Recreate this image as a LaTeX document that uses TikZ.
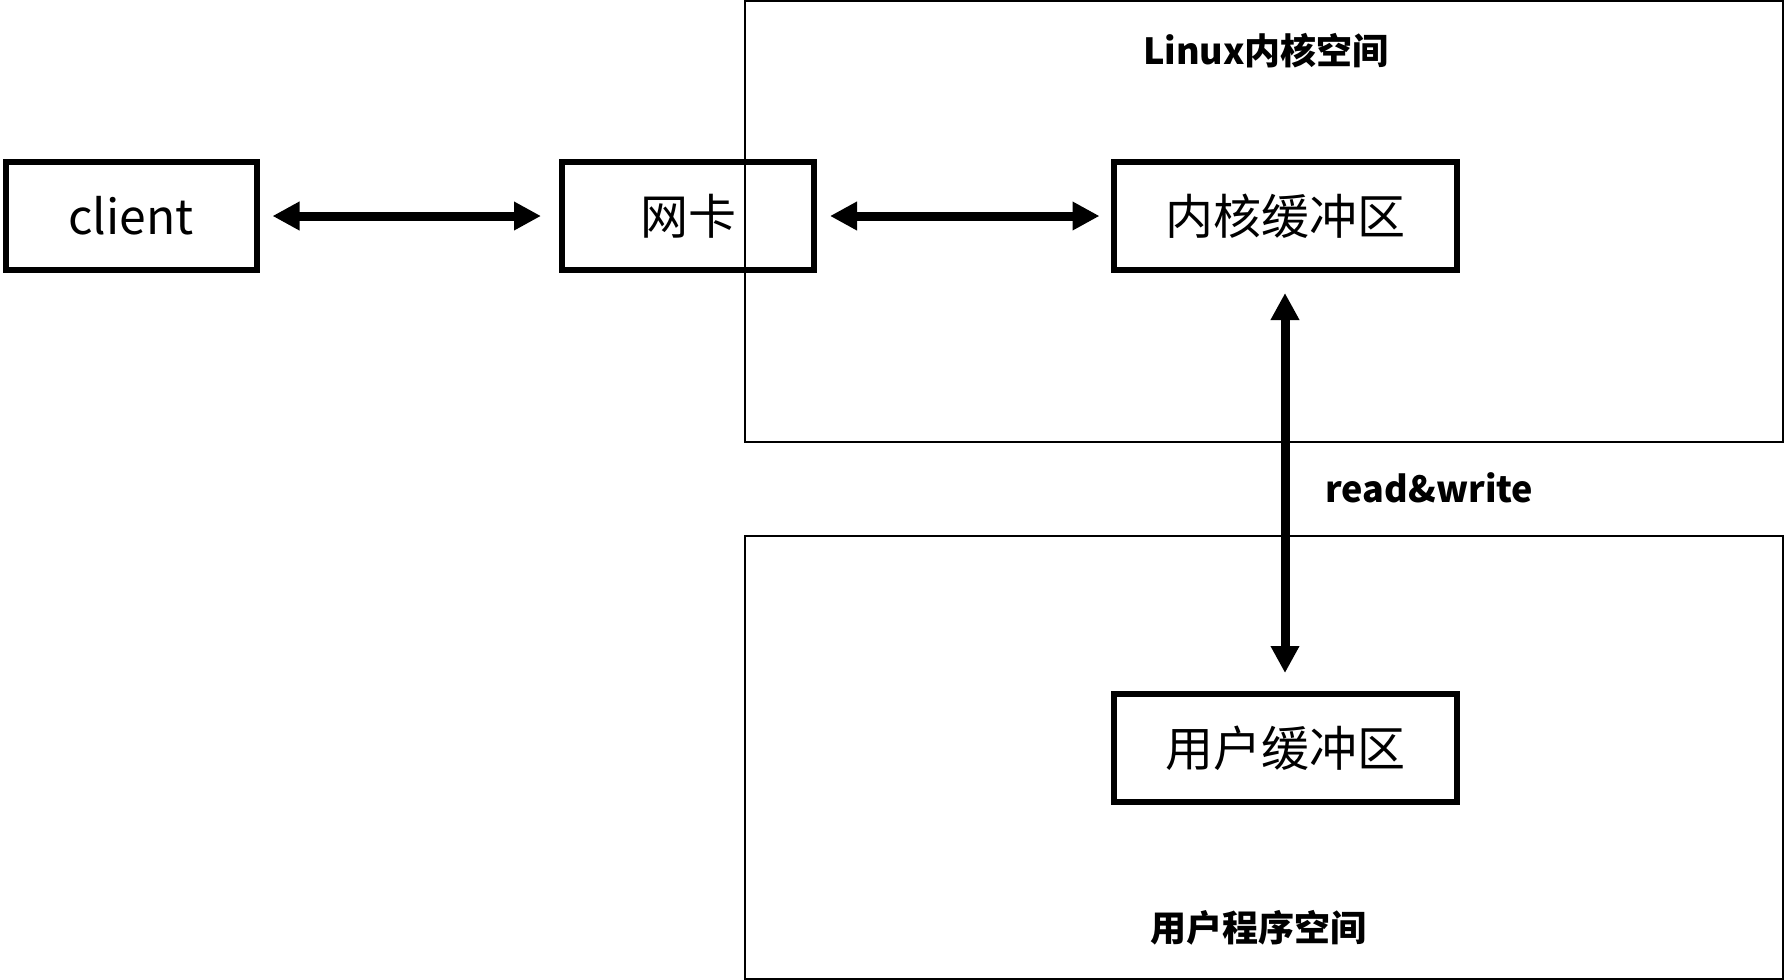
\documentclass[tikz,border=0pt]{standalone}
\usepackage{fontspec}
\setmainfont{Noto Sans CJK SC}
\usetikzlibrary{arrows.meta, positioning}

\begin{document}
\begin{tikzpicture}[
  x=0.5pt, y=-0.5pt,
  >={Triangle[length=13.5pt, width=13.5pt]},
  buffer/.style={draw, line width=3pt, minimum height=54pt, inner sep=0pt, font=\fontsize{24}{30}\selectfont},
  region/.style={draw, line width=0.75pt},
  spacelabel/.style={font=\fontsize{18}{22}\selectfont\bfseries, inner sep=0pt},
  link/.style={<->, line width=4.5pt},
]
\useasboundingbox (0,0) rectangle (1785,980);

% Kernel and user space frames
\draw[region] (745,1) rectangle (1783,442);
\draw[region] (745,536) rectangle (1783,979);

\node[spacelabel] (klabel) at (1266,51) {Linux内核空间};
\node[spacelabel] (ulabel) at (1258,928) {用户程序空间};

% Buffers
\node[buffer, minimum width=125.5pt] (client) at (131,216) {client};
\node[buffer, minimum width=126pt] (nic) at (688,216) {网卡};
\node[buffer, minimum width=171.5pt] (kbuf) at (1285,216) {内核缓冲区};
\node[buffer, minimum width=171.5pt] (ubuf) at (1285,748) {用户缓冲区};

% Data paths
\draw[link, shorten <=6.5pt, shorten >=9pt] (client) -- (nic);
\draw[link, shorten <=6.5pt, shorten >=5.5pt] (nic) -- (kbuf);
\draw[link, shorten <=10pt, shorten >=9pt] (kbuf) -- node[spacelabel, right=18pt, yshift=-3pt] (rw) {read\&write} (ubuf);

\end{tikzpicture}
\end{document}
